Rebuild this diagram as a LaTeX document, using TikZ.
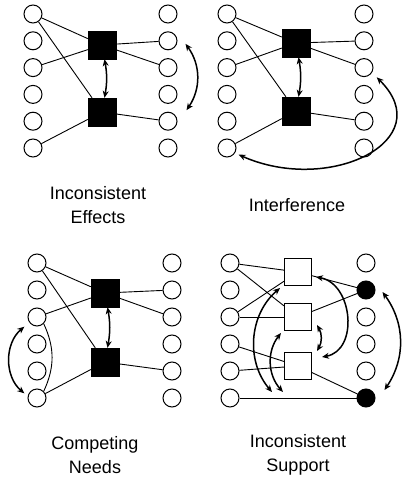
\documentclass[tikz,border=0pt]{standalone}
\usepackage{fontspec}
\setmainfont{Liberation Sans}
\usetikzlibrary{arrows.meta}

\begin{document}
\begin{tikzpicture}[x=1pt, y=1pt,
	ring/.style={circle, draw, line width=1pt, minimum size=18pt, inner sep=0pt},
	blk/.style={draw, fill=black, minimum size=28pt, inner sep=0pt},
	opbox/.style={draw, fill=white, line width=1pt, minimum size=27pt, inner sep=0pt},
	link/.style={line width=0.9pt},
	dbl/.style={line width=1.5pt, {Stealth[length=7pt, width=6pt]}-{Stealth[length=7pt, width=6pt]}},
	ttl/.style={align=center, font=\fontsize{18}{24}\selectfont}]
	\useasboundingbox (0,0) rectangle (402,-482);

	% inconsistent effects
	\foreach \i in {1,...,6} {
		\node[ring] (ieL\i) at (33, {-14-26.8*(\i-1)}) {};
		\node[ring] (ieR\i) at (168, {-14-26.8*(\i-1)}) {};
	}
	\node[blk] (ie1) at (102, -45) {};
	\node[blk] (ie2) at (102, -112) {};
	\draw[link] (ieL1) -- (ie1);
	\draw[link] (ieL1) -- (ie2);
	\draw[link] (ieL3) -- (ie1);
	\draw[link] (ieL6) -- (ie2);
	\draw[link] (ie1) -- (ieR2);
	\draw[link] (ie1) -- (ieR3);
	\draw[link] (ie2) -- (ieR5);
	\draw[dbl] (ie1) to[bend left=10] (ie2);
	\draw[dbl] ([shift={(8,-3)}]ieR2.east) to[bend left=35] ([shift={(9,11)}]ieR5.east);
	\node[ttl] (ieT) at (98, -205) {Inconsistent\\Effects};

	% interference
	\foreach \i in {1,...,6} {
		\node[ring] (ifL\i) at (227, {-14-26.8*(\i-1)}) {};
		\node[ring] (ifR\i) at (364, {-14-26.8*(\i-1)}) {};
	}
	\node[blk] (if1) at (296, -43) {};
	\node[blk] (if2) at (296, -111) {};
	\draw[link] (ifL1) -- (if1);
	\draw[link] (ifL1) -- (if2);
	\draw[link] (ifL3) -- (if1);
	\draw[link] (ifL6) -- (if2);
	\draw[link] (if1) -- (ifR2);
	\draw[link] (if1) -- (ifR3);
	\draw[link] (if2) -- (ifR5);
	\draw[dbl] (if1) to[bend left=10] (if2);
	\draw[dbl] ([shift={(6,-3)}]ifR3.south east) .. controls (440,-140) and (330,-195) .. ([shift={(5,0)}]ifL6.south east);
	\node[ttl] (ifT) at (297, -205) {Interference};

	% competing needs
	\foreach \i in {1,...,6} {
		\node[ring] (cnL\i) at (37, {-263-27*(\i-1)}) {};
		\node[ring] (cnR\i) at (172, {-263-27*(\i-1)}) {};
	}
	\node[blk] (cn1) at (105, -293) {};
	\node[blk] (cn2) at (105, -362) {};
	\draw[link] (cnL1) -- (cn1);
	\draw[link] (cnL1) -- (cn2);
	\draw[link] (cnL3) -- (cn1);
	\draw[link] (cnL6) -- (cn2);
	\draw[link] (cn1) -- (cnR2);
	\draw[link] (cn1) -- (cnR3);
	\draw[link] (cn2) -- (cnR5);
	\draw[link] (cnL3.south east) to[bend left=25] (cnL6.north east);
	\draw[dbl] (cn1) to[bend left=10] (cn2);
	\draw[dbl] ([shift={(-6,-3)}]cnL3.south west) to[bend right=50] ([shift={(-6,-2)}]cnL6.north west);
	\node[ttl] (cnT) at (95, -455) {Competing\\Needs};

	% inconsistent support
	\foreach \i/\f in {1/white,2/black,3/white,4/white,5/white,6/black} {
		\node[ring] (isL\i) at (230, {-263-27*(\i-1)}) {};
		\node[ring, fill=\f] (isR\i) at (366, {-263-27*(\i-1)}) {};
	}
	\node[opbox] (is1) at (298, -272) {};
	\node[opbox] (is2) at (298, -317) {};
	\node[opbox] (is3) at (298, -366) {};
	\coordinate (isF1) at (272, -392);
	\coordinate (isF2) at (283, -392);
	\draw[link] (isL1) -- (is1);
	\draw[link] (isL1) -- (is2);
	\draw[link] (isL3) -- (is1);
	\draw[link] (isL3) -- (is2);
	\draw[link] (isL4) -- (is3);
	\draw[link] (isL5) -- (is3);
	\draw[link] (isL6) -- (isR6);
	\draw[link] (is1) -- (isR2);
	\draw[link] (is2) -- (isR2);
	\draw[link] (is3) -- (isR6);
	\draw[dbl] ([shift={(7,-2)}]isR2.east) to[bend left=35] ([shift={(9,8)}]isR6.east);
	\draw[dbl] ([shift={(4,-5)}]is1.east) to[out=-10, in=10, looseness=1.2] ([shift={(10,9)}]is3.east);
	\draw[dbl] ([shift={(5,-8)}]is2.east) to[bend left=30] ([shift={(5,15)}]is3.east);
	\draw[dbl] ([shift={(-4,-2)}]is1.south west) to[bend right=45] (isF1);
	\draw[dbl] ([shift={(-3,-2)}]is2.south west) to[bend right=40] (isF2);
	\node[ttl] (isT) at (298, -455) {Inconsistent\\Support};
\end{tikzpicture}
\end{document}
